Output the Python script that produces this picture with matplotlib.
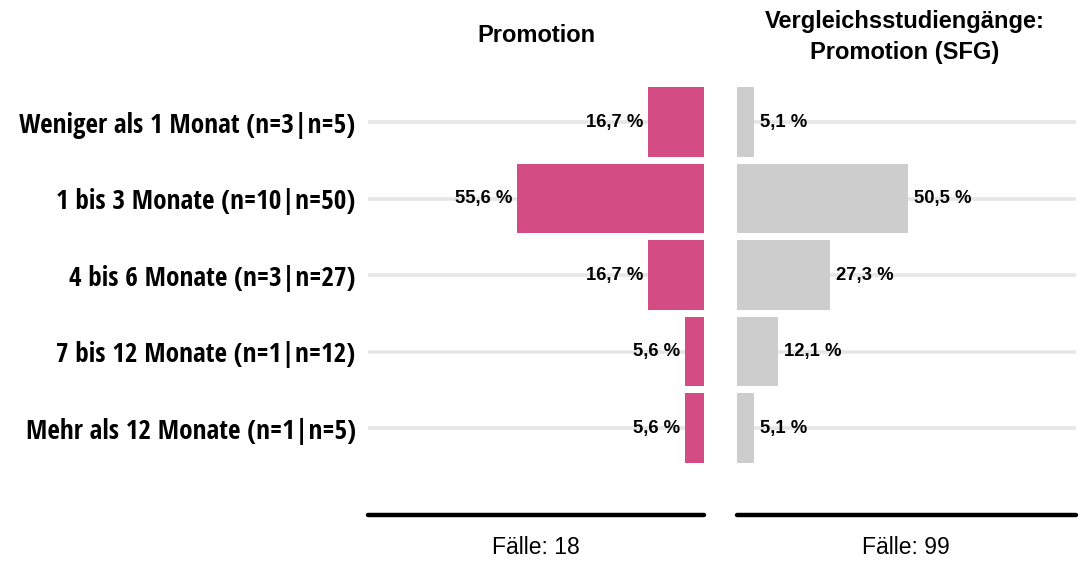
import matplotlib
matplotlib.use("Agg")
import matplotlib.pyplot as plt

categories = ["Weniger als 1 Monat (n=3|n=5)", "1 bis 3 Monate (n=10|n=50)",
              "4 bis 6 Monate (n=3|n=27)", "7 bis 12 Monate (n=1|n=12)",
              "Mehr als 12 Monate (n=1|n=5)"]
promotion = [16.7, 55.6, 16.7, 5.6, 5.6]
sfg = [5.1, 50.5, 27.3, 12.1, 5.1]
titles = ["Promotion", "Vergleichsstudiengänge:\nPromotion (SFG)"]
cases = ["Fälle: 18", "Fälle: 99"]

W, H = 1082, 563
fig = plt.figure(figsize=(W/100, H/100), dpi=100)

def px_ax(x0, x1, ytop, ybot):
    return fig.add_axes([x0/W, 1-ybot/H, (x1-x0)/W, (ybot-ytop)/H])

axL = px_ax(368, 704, 70, 515)
axR = px_ax(737, 1076, 70, 515)

pink = "#D44C84"
grey = "#CDCDCD"
ypos = list(range(len(categories)))
lab_font = ["Liberation Sans", "DejaVu Sans"]
cat_font = ["Open Sans Condensed", "DejaVu Sans"]

for ax, vals, col, side in [(axL, promotion, pink, "L"), (axR, sfg, grey, "R")]:
    if side == "L":
        ax.set_xlim(100, 0)
    else:
        ax.set_xlim(0, 100)
    ax.set_ylim(5.137, -0.68)
    for y in ypos:
        ax.axhline(y, color="#E6E6E6", lw=2.6, zorder=0)
    ax.barh(ypos, vals, height=0.91, color=col, zorder=2)
    for y, v in zip(ypos, vals):
        lab = f"{v:.1f} %".replace(".", ",")
        if side == "L":
            ax.annotate(lab, (v, y), xytext=(-3.6, 0), textcoords="offset points",
                        ha="right", va="center", fontsize=13.3, fontweight="bold",
                        family=lab_font, zorder=3)
        else:
            ax.annotate(lab, (v, y), xytext=(4.3, 0), textcoords="offset points",
                        ha="left", va="center", fontsize=13.3, fontweight="bold",
                        family=lab_font, zorder=3)
    for s in ["top", "left", "right"]:
        ax.spines[s].set_visible(False)
    ax.spines["bottom"].set_linewidth(3.2)
    ax.spines["bottom"].set_capstyle("round")
    ax.set_xticks([])
    ax.tick_params(axis="y", length=0)

axL.set_yticks(ypos)
axL.set_yticklabels(categories, fontsize=19.5, fontweight="bold", family=cat_font)
axL.tick_params(axis="y", pad=9)
axR.set_yticks([])

fig.text(536/W, 1-36/H, titles[0], ha="center", va="center", fontsize=17,
         fontweight="bold", family=lab_font)
fig.text(905/W, 1-37/H, titles[1], ha="center", va="center", fontsize=17,
         fontweight="bold", family=lab_font, linespacing=1.47)
fig.text(536/W, 1-548/H, cases[0], ha="center", va="center", fontsize=16.5,
         family=lab_font)
fig.text(906/W, 1-548/H, cases[1], ha="center", va="center", fontsize=16.5,
         family=lab_font)

fig.savefig("out.png", dpi=100)
